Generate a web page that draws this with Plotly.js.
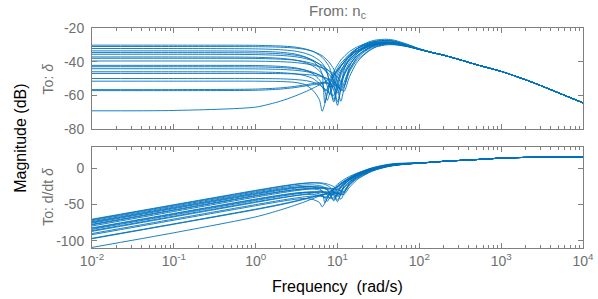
<!DOCTYPE html>
<html>
<head>
<meta charset="utf-8">
<script src="https://cdn.plot.ly/plotly-3.0.1.min.js"></script>
<style>html,body{margin:0;padding:0;background:#fff;}#chart{width:598px;height:299px;}</style>
</head>
<body>
<div id="chart"></div>
<script>
const freqMid = [0.01, 0.1, 1, 2, 3, 4, 5, 6, 6.5, 7, 7.5, 8, 9, 10, 11, 12, 14, 17, 20, 25, 30, 40, 50, 70, 100];
const freqTail = [150, 200, 300, 500, 1000, 2000, 3000, 5000, 10000];

// Common high-frequency part (all models coincide there)
const magTail  = [-34.8, -36.2, -38.6, -41.8, -45.8, -50.8, -54.1, -58.5, -64.5];
const rateTail = [8.7, 9.8, 10.9, 12.2, 14.2, 15.2, 15.4, 15.5, 15.5];

// To: delta  (dB)
const mag01 = [-30.2,-30.2,-30.3,-30.7,-31.3,-32.4,-33.9,-36.1,-37.5,-39.2,-41.2,-43.5,-53,-64,-55,-45,-38,-32.8,-30.2,-28,-27.1,-26.7,-27.3,-29.5,-32.3];
const mag02 = [-31,-31,-31.1,-31.4,-31.9,-32.7,-33.9,-35.5,-36.5,-37.7,-39.1,-40.7,-44.5,-53,-57.5,-55,-43,-36,-32.3,-29.3,-28,-27.3,-27.8,-29.9,-32.4];
const mag03 = [-32.2,-32.2,-32.4,-32.9,-33.7,-35.0,-36.8,-39.3,-41.0,-43.2,-46.3,-54,-64,-54,-46,-42,-36.5,-32.6,-30.6,-28.7,-27.8,-27.4,-28,-30,-32.5];
const mag04 = [-33.6,-33.6,-33.8,-34.4,-35.4,-37.1,-39.6,-43.6,-47.5,-64.5,-58,-52.5,-46,-42,-39,-37,-34,-31.5,-30,-28.5,-27.8,-27.6,-28.2,-30.2,-32.5];
const mag05 = [-34.6,-34.6,-34.8,-35.3,-36.1,-37.3,-39.1,-41.6,-43.1,-45,-47.2,-52,-62.5,-56,-48,-44,-39,-34.5,-32,-29.8,-28.8,-28.3,-28.8,-30.5,-32.6];
const mag06 = [-35.6,-35.6,-35.8,-36.3,-37.0,-38.1,-39.5,-41.3,-42.3,-43.4,-44.6,-46,-49.5,-56,-63.5,-56,-45,-38,-34.5,-31.5,-30,-29,-29.3,-30.7,-32.7];
const mag07 = [-37.2,-37.2,-37.4,-38,-39,-40.5,-42.5,-45.5,-47.5,-50.3,-54.5,-59.5,-53,-47,-43,-40,-36,-32.5,-30.8,-29.2,-28.5,-28.2,-28.8,-30.5,-32.6];
const mag08 = [-38,-38,-38.1,-38.5,-39.1,-40,-41.2,-42.8,-43.8,-45,-46.3,-47.8,-51.5,-56.5,-52,-47,-40.5,-35.5,-33,-30.6,-29.5,-28.8,-29.1,-30.6,-32.6];
const mag09 = [-39.6,-39.6,-39.7,-40,-40.5,-41.2,-42,-43,-43.6,-44.2,-44.9,-45.6,-47.2,-49.2,-51.8,-54.5,-46,-39.5,-36.5,-32.8,-31,-29.6,-29.7,-30.9,-32.7];
const mag10 = [-42.2,-42.2,-42.3,-42.8,-43.6,-45,-47.2,-50.7,-53.2,-57.2,-63,-59,-50,-45.5,-42.5,-40.3,-36.8,-33.5,-31.6,-29.8,-29,-28.6,-29,-30.6,-32.6];
const mag11 = [-43,-43,-43.1,-43.5,-44.1,-45,-46.3,-48,-49.1,-50.5,-52.3,-54.8,-54.5,-49,-45,-42.5,-38.5,-34.8,-32.6,-30.5,-29.4,-28.9,-29.2,-30.6,-32.7];
const mag12 = [-44.2,-44.2,-44.3,-44.6,-45.1,-45.8,-46.7,-47.9,-48.7,-49.5,-50.5,-51.7,-57,-66,-56,-48.5,-42,-37,-34.2,-31.5,-30,-29.2,-29.4,-30.7,-32.7];
const mag13 = [-46,-46,-46.1,-46.5,-47.2,-48.3,-50,-53,-55,-57.5,-56,-53,-48.5,-45,-42.5,-40.5,-37,-33.8,-32,-30.2,-29.3,-28.9,-29.3,-30.7,-32.7];
const mag14 = [-47,-47,-47,-47.1,-47.3,-47.6,-48,-48.6,-49,-49.5,-50,-50.6,-52.2,-54.2,-56.8,-52.5,-44.5,-38.5,-35.2,-32,-30.5,-29.5,-29.6,-30.8,-32.7];
const mag15 = [-50,-50,-50,-50.2,-50.6,-51.2,-52.2,-53.8,-55,-56.3,-57.5,-59,-60,-51.5,-46.5,-43.5,-39,-35,-33,-30.8,-29.7,-29.1,-29.4,-30.7,-32.7];
const mag16 = [-51.6,-51.6,-51.6,-51.8,-52.3,-53.6,-57,-62.5,-69.5,-65,-59,-54.5,-48,-44,-41,-39,-35.5,-32.5,-31,-29.3,-28.6,-28.3,-28.8,-30.5,-32.6];
const mag17 = [-56.6,-56.6,-56.3,-55.6,-54.7,-53.8,-53,-52.5,-52.4,-52.4,-52.6,-53,-55,-58.5,-53,-48,-42,-37,-34.2,-31.4,-30,-29.2,-29.4,-30.7,-32.7];
const mag18 = [-57.2,-57.2,-57,-56.3,-55.4,-54.5,-53.7,-53.1,-52.9,-52.8,-52.8,-52.9,-53.5,-54.6,-56.3,-57.8,-49,-41,-37,-33.2,-31.2,-30,-30,-31,-32.8];
const mag19 = [-69.2,-69,-67,-63.5,-60.5,-58,-55.8,-53.8,-52.9,-52,-51.1,-50.2,-47.5,-45,-42.5,-40.3,-37,-34,-32.2,-30.2,-29.4,-28.9,-29.2,-30.6,-32.6];

// To: d/dt delta  (dB)
const rate01 = [-70.2,-50.2,-30.3,-24.7,-21.8,-20.4,-19.9,-20.5,-21.2,-22.3,-23.7,-25.4,-33.9,-44,-34.2,-23.4,-15.1,-8.2,-4.2,0,2.4,5.3,6.7,7.4,7.7];
const rate02 = [-71,-51,-31.1,-25.4,-22.4,-20.7,-19.9,-19.9,-20.2,-20.8,-21.6,-22.6,-25.4,-33,-36.7,-33.4,-20.1,-11.4,-6.3,-1.3,1.5,4.7,6.2,7.0,7.6];
const rate03 = [-72.2,-52.2,-32.4,-26.9,-24.2,-23.0,-22.8,-23.7,-24.7,-26.3,-28.8,-35.9,-44.9,-34,-25.2,-20.4,-13.6,-8.0,-4.6,-0.7,1.7,4.6,6,6.9,7.5];
const rate04 = [-73.6,-53.6,-33.8,-28.4,-25.9,-25.1,-25.6,-28,-31.2,-47.6,-40.5,-34.4,-26.9,-22,-18.2,-15.4,-11.1,-6.9,-4,-0.5,1.7,4.4,5.8,6.7,7.5];
const rate05 = [-74.6,-54.6,-34.8,-29.3,-26.6,-25.3,-25.1,-26,-26.8,-28.1,-29.7,-33.9,-43.4,-36,-27.2,-22.4,-16.1,-9.9,-6,-1.8,0.7,3.7,5.2,6.4,7.4];
const rate06 = [-75.6,-55.6,-35.8,-30.3,-27.5,-26.1,-25.5,-25.7,-26,-26.5,-27.1,-27.9,-30.4,-36,-42.7,-34.4,-22.1,-13.4,-8.5,-3.5,-0.5,3,4.7,6.2,7.3];
const rate07 = [-77.2,-57.2,-37.4,-32,-29.5,-28.5,-28.5,-29.9,-31.2,-33.4,-37,-41.4,-33.9,-27,-22.2,-18.4,-13.1,-7.9,-4.8,-1.2,1,3.8,5.2,6.4,7.4];
const rate08 = [-78,-58,-38.1,-32.5,-29.6,-28,-27.2,-27.2,-27.5,-28.1,-28.8,-29.7,-32.4,-36.5,-31.2,-25.4,-17.6,-10.9,-7,-2.6,0,3.2,4.9,6.3,7.4];
const rate09 = [-79.6,-59.6,-39.7,-34,-31,-29.2,-28,-27.4,-27.3,-27.3,-27.4,-27.5,-28.1,-29.2,-31,-32.9,-23.1,-14.9,-10.5,-4.8,-1.5,2.4,4.3,6,7.3];
const rate10 = [-82.2,-62.2,-42.3,-36.8,-34.1,-33,-33.2,-35.1,-36.9,-40.3,-45.5,-40.9,-30.9,-25.5,-21.7,-18.7,-13.9,-8.9,-5.6,-1.8,0.5,3.4,5,6.3,7.4];
const rate11 = [-83,-63,-43.1,-37.5,-34.6,-33,-32.3,-32.4,-32.8,-33.6,-34.8,-36.7,-35.4,-29,-24.2,-20.9,-15.6,-10.2,-6.6,-2.5,0.1,3.1,4.8,6.3,7.3];
const rate12 = [-84.2,-64.2,-44.3,-38.6,-35.6,-33.8,-32.7,-32.3,-32.4,-32.6,-33,-33.6,-37.9,-46,-35.2,-26.9,-19.1,-12.4,-8.2,-3.5,-0.5,2.8,4.6,6.2,7.3];
const rate13 = [-86,-66,-46.1,-40.5,-37.7,-36.3,-36,-37.4,-38.7,-40.6,-38.5,-34.9,-29.4,-25,-21.7,-18.9,-14.1,-9.2,-6,-2.2,0.2,3.1,4.7,6.2,7.3];
const rate14 = [-87,-67,-47,-41.1,-37.8,-35.6,-34,-33,-32.7,-32.6,-32.5,-32.5,-33.1,-34.2,-36,-30.9,-21.6,-13.9,-9.2,-4,-1,2.5,4.4,6.1,7.3];
const rate15 = [-90,-70,-50,-44.2,-41.1,-39.2,-38.2,-38.2,-38.7,-39.4,-40,-40.9,-40.9,-31.5,-25.7,-21.9,-16.1,-10.4,-7,-2.8,-0.2,2.9,4.6,6.2,7.3];
const rate16 = [-91.6,-71.6,-51.6,-45.8,-42.8,-41.6,-43,-46.9,-53.2,-48.1,-41.5,-36.4,-28.9,-24,-20.2,-17.4,-12.6,-7.9,-5,-1.3,0.9,3.7,5.2,6.4,7.4];
const rate17 = [-96.6,-76.6,-56.3,-49.6,-45.2,-41.8,-39,-36.9,-36.1,-35.5,-35.1,-34.9,-35.9,-38.5,-32.2,-26.4,-19.1,-12.4,-8.2,-3.4,-0.5,2.8,4.6,6.2,7.3];
const rate18 = [-97.2,-77.2,-57,-50.3,-45.9,-42.5,-39.7,-37.5,-36.6,-35.9,-35.3,-34.8,-34.4,-34.6,-35.5,-36.2,-26.1,-16.4,-11,-5.2,-1.7,2,4,5.9,7.2];
const rate19 = [-109.2,-89,-67,-57.5,-51,-46,-41.8,-38.2,-36.6,-35.1,-33.6,-32.1,-28.4,-25,-21.7,-18.7,-14.1,-9.4,-6.2,-2.2,0.1,3.1,4.8,6.3,7.4];

const magSeries  = [mag01,mag02,mag03,mag04,mag05,mag06,mag07,mag08,mag09,mag10,mag11,mag12,mag13,mag14,mag15,mag16,mag17,mag18,mag19];
const rateSeries = [rate01,rate02,rate03,rate04,rate05,rate06,rate07,rate08,rate09,rate10,rate11,rate12,rate13,rate14,rate15,rate16,rate17,rate18,rate19];

// Axis labels
const xTickVals = [0.01, 0.1, 1, 10, 100, 1000, 10000];
const xTickText = ['10<sup>-2</sup>','10<sup>-1</sup>','10<sup>0</sup>','10<sup>1</sup>','10<sup>2</sup>','10<sup>3</sup>','10<sup>4</sup>'];
const yTopVals = [-80, -60, -40, -20];
const yTopText = ['-80', '-60', '-40', '-20'];
const yBotVals = [-100, -50, 0];
const yBotText = ['-100', '-50', '0'];

const LINE = '#0072BD';
const AX = '#808080';
const TXT = '#6f6f6f';
const FONT = 'Liberation Sans, Arial, Helvetica, sans-serif';

const freqAll = freqMid.concat(freqTail);
const traces = [];
magSeries.forEach(m => traces.push({
  x: freqAll, y: m.concat(magTail), xaxis: 'x', yaxis: 'y', type: 'scatter', mode: 'lines',
  line: {color: LINE, width: 0.9, shape: 'spline', smoothing: 0.7}, hoverinfo: 'skip', showlegend: false
}));
rateSeries.forEach(r => traces.push({
  x: freqAll, y: r.concat(rateTail), xaxis: 'x2', yaxis: 'y2', type: 'scatter', mode: 'lines',
  line: {color: LINE, width: 0.9, shape: 'spline', smoothing: 0.7}, hoverinfo: 'skip', showlegend: false
}));

// minor tick positions (2..9 in each decade)
const minorVals = [];
for (let e = -2; e < 4; e++) for (let k = 2; k <= 9; k++) minorVals.push(k * Math.pow(10, e));

function xAxis(anchor, labels) {
  return {
    type: 'log', range: [-2, 4], anchor: anchor, domain: [0, 1],
    showline: true, linecolor: AX, linewidth: 1, mirror: 'allticks',
    ticks: 'inside', ticklen: 5, tickcolor: AX, tickwidth: 1,
    tickmode: 'array', tickvals: xTickVals, ticktext: xTickText,
    showticklabels: labels, tickfont: {family: FONT, size: 14, color: TXT},
    minor: {tickmode: 'array', tickvals: minorVals, ticks: 'inside', ticklen: 3, tickcolor: AX, showgrid: false},
    showgrid: false, zeroline: false
  };
}
function yAxis(anchor, dom, rng, vals, text) {
  return {
    range: rng, domain: dom, anchor: anchor,
    showline: true, linecolor: AX, linewidth: 1, mirror: 'allticks',
    ticks: 'inside', ticklen: 5, tickcolor: AX, tickwidth: 1,
    tickmode: 'array', tickvals: vals, ticktext: text,
    tickfont: {family: FONT, size: 14, color: TXT}, ticklabelstandoff: 4,
    showgrid: false, zeroline: false
  };
}

const layout = {
  width: 598, height: 299,
  margin: {l: 92, r: 15, t: 28, b: 51},
  paper_bgcolor: '#fff', plot_bgcolor: '#fff',
  font: {family: FONT, size: 14, color: TXT},
  showlegend: false,
  xaxis: xAxis('y', false),
  yaxis: yAxis('x', [0.541, 1], [-80, -20], yTopVals, yTopText),
  xaxis2: xAxis('y2', true),
  yaxis2: yAxis('x2', [0, 0.4605], [-110, 30], yBotVals, yBotText),
  annotations: [
    {text: 'From: n<sub>c</sub>', xref: 'paper', yref: 'paper', x: 0.5, y: 1.075, xanchor: 'center', yanchor: 'middle', showarrow: false, font: {family: FONT, size: 15, color: TXT}},
    {text: 'Magnitude (dB)', xref: 'paper', yref: 'paper', x: -0.147, y: 0.5, xanchor: 'center', yanchor: 'middle', textangle: -90, showarrow: false, font: {family: FONT, size: 16, color: '#000'}},
    {text: 'To: <i>δ</i>', xref: 'paper', yref: 'paper', x: -0.09, y: 0.77, xanchor: 'center', yanchor: 'middle', textangle: -90, showarrow: false, font: {family: FONT, size: 14, color: TXT}},
    {text: 'To: d/dt <i>δ</i>', xref: 'paper', yref: 'paper', x: -0.09, y: 0.232, xanchor: 'center', yanchor: 'middle', textangle: -90, showarrow: false, font: {family: FONT, size: 14, color: TXT}},
    {text: 'Frequency\u00a0\u00a0(rad/s)', xref: 'paper', yref: 'paper', x: 0.5, y: -0.173, xanchor: 'center', yanchor: 'middle', showarrow: false, font: {family: FONT, size: 16, color: '#000'}}
  ]
};

Plotly.newPlot('chart', traces, layout, {staticPlot: true, displayModeBar: false});
</script>
</body>
</html>
